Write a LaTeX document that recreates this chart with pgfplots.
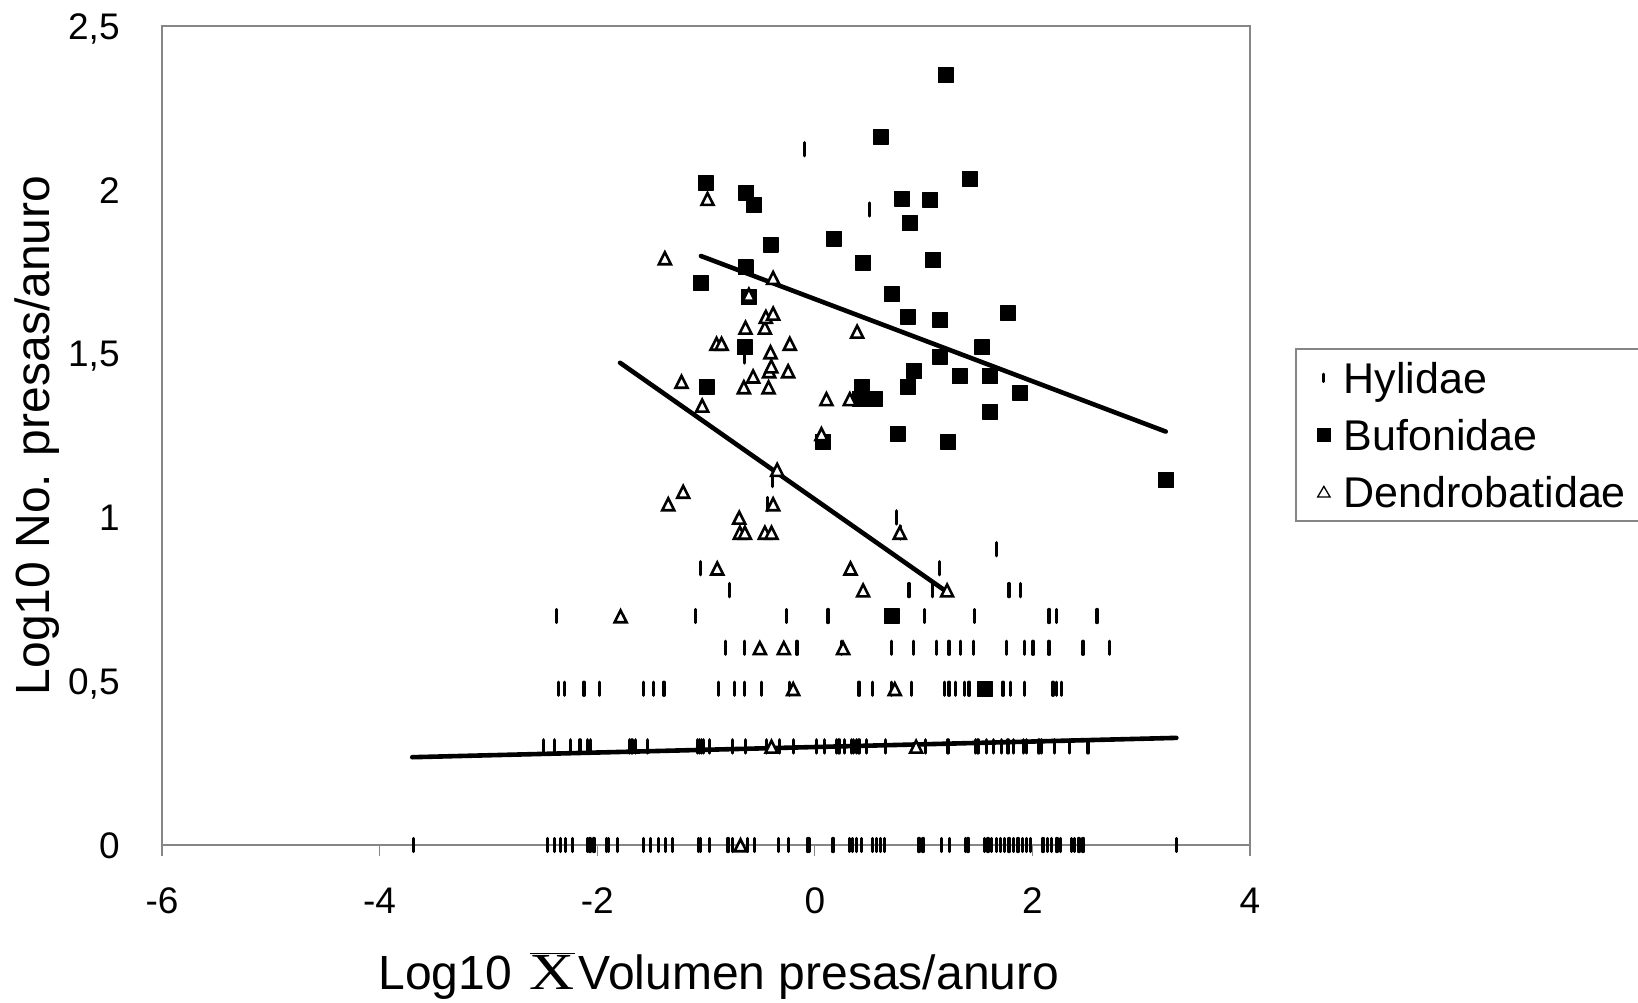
\documentclass[border=0pt]{standalone}
\usepackage{fontspec}
\setmainfont{Liberation Sans}
\newfontfamily\seriffont{Liberation Serif}
\usepackage{graphicx}
\usepackage{pgfplots}
\pgfplotsset{compat=1.18}
\definecolor{axgray}{RGB}{134,134,134}
\newcommand\lstrut{\rule[-2.6pt]{0pt}{20.05pt}}

\begin{document}
\begin{tikzpicture}
\begin{axis}[
  scale only axis, width=544pt, height=409.5pt,
  at={(0pt,0pt)}, anchor=south west,
  xmin=-6, xmax=4, ymin=0, ymax=2.5,
  xtick={-6,-4,-2,0,2,4}, ytick={0,0.5,1,1.5,2,2.5},
  xtick pos=bottom, ytick pos=left,
  /pgf/number format/assume math mode=true,
  /pgf/number format/use comma,
  tick label style={font=\fontsize{18.5}{22}\selectfont, inner sep=0pt},
  axis line style={axgray, line width=0.8pt},
  tick align=outside,
  major tick length=5.7pt,
  xtick style={axgray, line width=0.6pt},
  ytick style={draw=none},
  xticklabel style={anchor=base, yshift=-28.3pt},
  yticklabel style={anchor=base east, yshift=-6.6pt, xshift=-15.3pt},
  ylabel={Log10 No. presas/anuro},
  ylabel style={at={(axis description cs:-0.103,0.5)}, anchor=base, rotate=0, font=\fontsize{24}{28}\selectfont, inner sep=0pt},
  xlabel={Log10\hspace{9pt}$\overline{\hbox{\scalebox{1.2}[1]{\fontsize{26}{30}\seriffont X}}}$\kern2pt Volumen presas/anuro},
  xlabel style={at={(axis description cs:0.5117,-0.177)}, anchor=base, font=\fontsize{24}{28}\selectfont, inner sep=0pt},
  clip=false,
  legend style={
    at={(axis description cs:1.0414,0.6068)}, anchor=north west,
    draw=axgray, line width=0.8pt,
    font=\fontsize{21.5}{25}\selectfont,
    inner sep=3pt, row sep=5.6pt,
    nodes={inner sep=2pt},
  },
  legend cell align=left,
]
% Hylidae
\addplot[only marks, mark=|, mark size=3.3pt, mark options={line width=1.6pt, line cap=round, black},
  legend image code/.code={\path[draw=none, fill=none] (0pt,-4pt) rectangle (19pt,4pt); \draw[line width=1.4pt, line cap=round, black] (11pt,-1.9pt) -- (11pt,1.9pt);}]
coordinates {
(-3.69,0) (-2.459,0) (-2.389,0) (-2.334,0) (-2.290,0) (-2.226,0) (-2.092,0) (-2.067,0) (-2.030,0) (-1.914,0) (-1.895,0) (-1.816,0) (-1.577,0) (-1.509,0) (-1.44,0) (-1.369,0) (-1.307,0) (-1.072,0) (-1.047,0) (-0.965,0)
(-0.797,0) (-0.756,0) (-0.622,0) (-0.551,0) (-0.337,0) (-0.245,0) (-0.062,0) (-0.046,0) (0.168,0) (0.322,0) (0.346,0) (0.383,0) (0.429,0) (0.530,0) (0.567,0) (0.604,0) (0.643,0)
(0.958,0) (0.995,0) (1.163,0) (1.24,0) (1.387,0) (1.408,0) (1.562,0) (1.592,0) (1.623,0) (1.669,0) (1.709,0) (1.746,0) (1.785,0) (1.828,0) (1.868,0) (1.908,0) (1.945,0) (1.982,0) (2.098,0) (2.135,0) (2.174,0) (2.226,0) (2.257,0) (2.358,0) (2.389,0) (2.428,0) (2.465,0) (3.323,0)
(-2.496,0.301) (-2.395,0.301) (-2.245,0.301) (-2.159,0.301) (-2.092,0.301) (-2.058,0.301) (-1.706,0.301) (-1.681,0.301) (-1.645,0.301) (-1.541,0.301) (-1.081,0.301) (-1.063,0.301) (-1.041,0.301) (-1.020,0.301) (-0.965,0.301) (-0.756,0.301) (-0.634,0.301) (-0.444,0.301) (-0.322,0.301) (-0.199,0.301) (0.016,0.301) (0.092,0.301) (0.199,0.301) (0.223,0.301) (0.276,0.301) (0.337,0.301) (0.358,0.301) (0.383,0.301) (0.407,0.301) (0.475,0.301) (0.652,0.301) (1.02,0.301) (1.225,0.301) (1.479,0.301) (1.5,0.301) (1.577,0.301) (1.645,0.301) (1.715,0.301) (1.776,0.301) (1.828,0.301) (1.92,0.301) (1.945,0.301) (2.06,0.301) (2.083,0.301) (2.205,0.301) (2.343,0.301) (2.51,0.301)
(-2.358,0.477) (-2.297,0.477) (-2.122,0.477) (-1.981,0.477) (-1.577,0.477) (-1.479,0.477) (-1.387,0.477) (-0.888,0.477) (-0.741,0.477) (-0.643,0.477) (-0.49,0.477) (-0.23,0.477) (0.407,0.477) (0.530,0.477) (0.705,0.477) (0.888,0.477) (1.194,0.477) (1.234,0.477) (1.295,0.477) (1.378,0.477) (1.418,0.477) (1.73,0.477) (1.798,0.477) (1.929,0.477) (2.189,0.477) (2.22,0.477) (2.266,0.477)
(-0.818,0.602) (-0.643,0.602) (-0.163,0.602) (0.245,0.602) (0.705,0.602) (0.91,0.602) (1.118,0.602) (1.234,0.602) (1.339,0.602) (1.461,0.602) (1.761,0.602) (1.929,0.602) (2.006,0.602) (2.153,0.602) (2.465,0.602) (2.71,0.602)
(-2.373,0.699) (-1.093,0.699) (-0.26,0.699) (0.122,0.699) (1.01,0.699) (1.47,0.699) (2.153,0.699) (2.22,0.699) (2.594,0.699)
(-0.781,0.778) (0.866,0.778) (1.081,0.778) (1.785,0.778) (1.89,0.778)
(-1.047,0.845) (1.148,0.845) (1.669,0.903) (0.79,0.954) (0.75,1.0) (-0.435,1.041) (-0.392,1.114) (-0.643,1.491) (0.505,1.94) (-0.092,2.124)
};
\addlegendentry{\lstrut Hylidae}
% Bufonidae
\addplot[only marks, mark=square*, mark size=3.7pt, mark options={line width=0.6pt, line join=round, draw=black, fill=black},
  legend image code/.code={\path[draw=none, fill=none] (0pt,-4pt) rectangle (19pt,4pt); \fill[black] (7.8pt,-3.2pt) rectangle (14.2pt,3.2pt);}]
coordinates {
(1.204,2.350) (0.604,2.161) (-1.004,2.021) (-0.628,1.991) (-0.56,1.954) (1.424,2.033) (0.802,1.973) (1.063,1.968) (0.873,1.898) (-0.407,1.833) (0.175,1.851) (0.444,1.778) (1.087,1.785) (-0.637,1.763) (-1.047,1.716) (0.71,1.681) (-0.606,1.672) (0.857,1.613) (1.155,1.602) (1.776,1.623) (1.54,1.519) (1.148,1.491) (-0.643,1.519) (0.91,1.447) (1.332,1.431) (1.608,1.431) (-0.995,1.398) (0.857,1.398) (0.438,1.398) (0.413,1.362) (0.551,1.362) (1.89,1.380) (1.614,1.322) (0.76,1.255) (1.228,1.230) (0.077,1.230) (3.225,1.114) (0.705,0.699) (1.562,0.477)
};
\addlegendentry{\lstrut Bufonidae}
% Dendrobatidae
\addplot[only marks, mark=triangle*, mark size=3.45pt, mark options={line width=1.3pt, line join=miter, draw=black, fill=white, yscale=1.15, yshift=-1pt},
  legend image code/.code={\path[draw=none, fill=none] (0pt,-4pt) rectangle (19pt,4pt); \filldraw[line width=0.65pt, draw=black, fill=white, line join=miter] (11pt,2.8pt) -- (7.9pt,-2.5pt) -- (14.1pt,-2.5pt) -- cycle;}]
coordinates {
(-0.683,0) (-0.398,0.301) (0.931,0.301) (-0.199,0.477) (0.735,0.477) (-0.505,0.602) (-0.285,0.602) (0.26,0.602) (-1.785,0.699) (0.444,0.778) (1.216,0.778) (-0.897,0.845) (0.328,0.845) (-0.689,0.954) (-0.643,0.954) (-0.459,0.954) (-0.398,0.954) (0.781,0.954) (-0.695,1.0) (-1.347,1.041) (-0.383,1.041) (-1.21,1.079) (-0.346,1.146) (0.061,1.255) (-1.035,1.342) (0.107,1.362) (0.322,1.362) (-1.225,1.415) (-0.652,1.398) (-0.425,1.398) (-0.567,1.431) (-0.42,1.447) (-0.40,1.462) (-0.245,1.447) (-0.407,1.505) (-0.903,1.531) (-0.857,1.531) (-0.23,1.531) (0.389,1.568) (-0.637,1.58) (-0.459,1.58) (-0.45,1.613) (-0.383,1.623) (-0.606,1.681) (-0.383,1.732) (-1.378,1.792) (-0.986,1.973)
};
\addlegendentry{\lstrut Dendrobatidae\hspace*{12pt}}
% regression lines
\addplot[forget plot, black, line width=2.3pt, line cap=round] coordinates {(-3.70,0.268) (3.323,0.327)};
\addplot[forget plot, black, line width=2.3pt, line cap=round] coordinates {(-1.047,1.798) (3.225,1.262)};
\addplot[forget plot, black, line width=2.3pt, line cap=round] coordinates {(-1.79,1.472) (1.225,0.770)};
\end{axis}
\pgfresetboundingbox
\path (-81pt,-78.5pt) rectangle (738pt,422.5pt);
\end{tikzpicture}
\end{document}
